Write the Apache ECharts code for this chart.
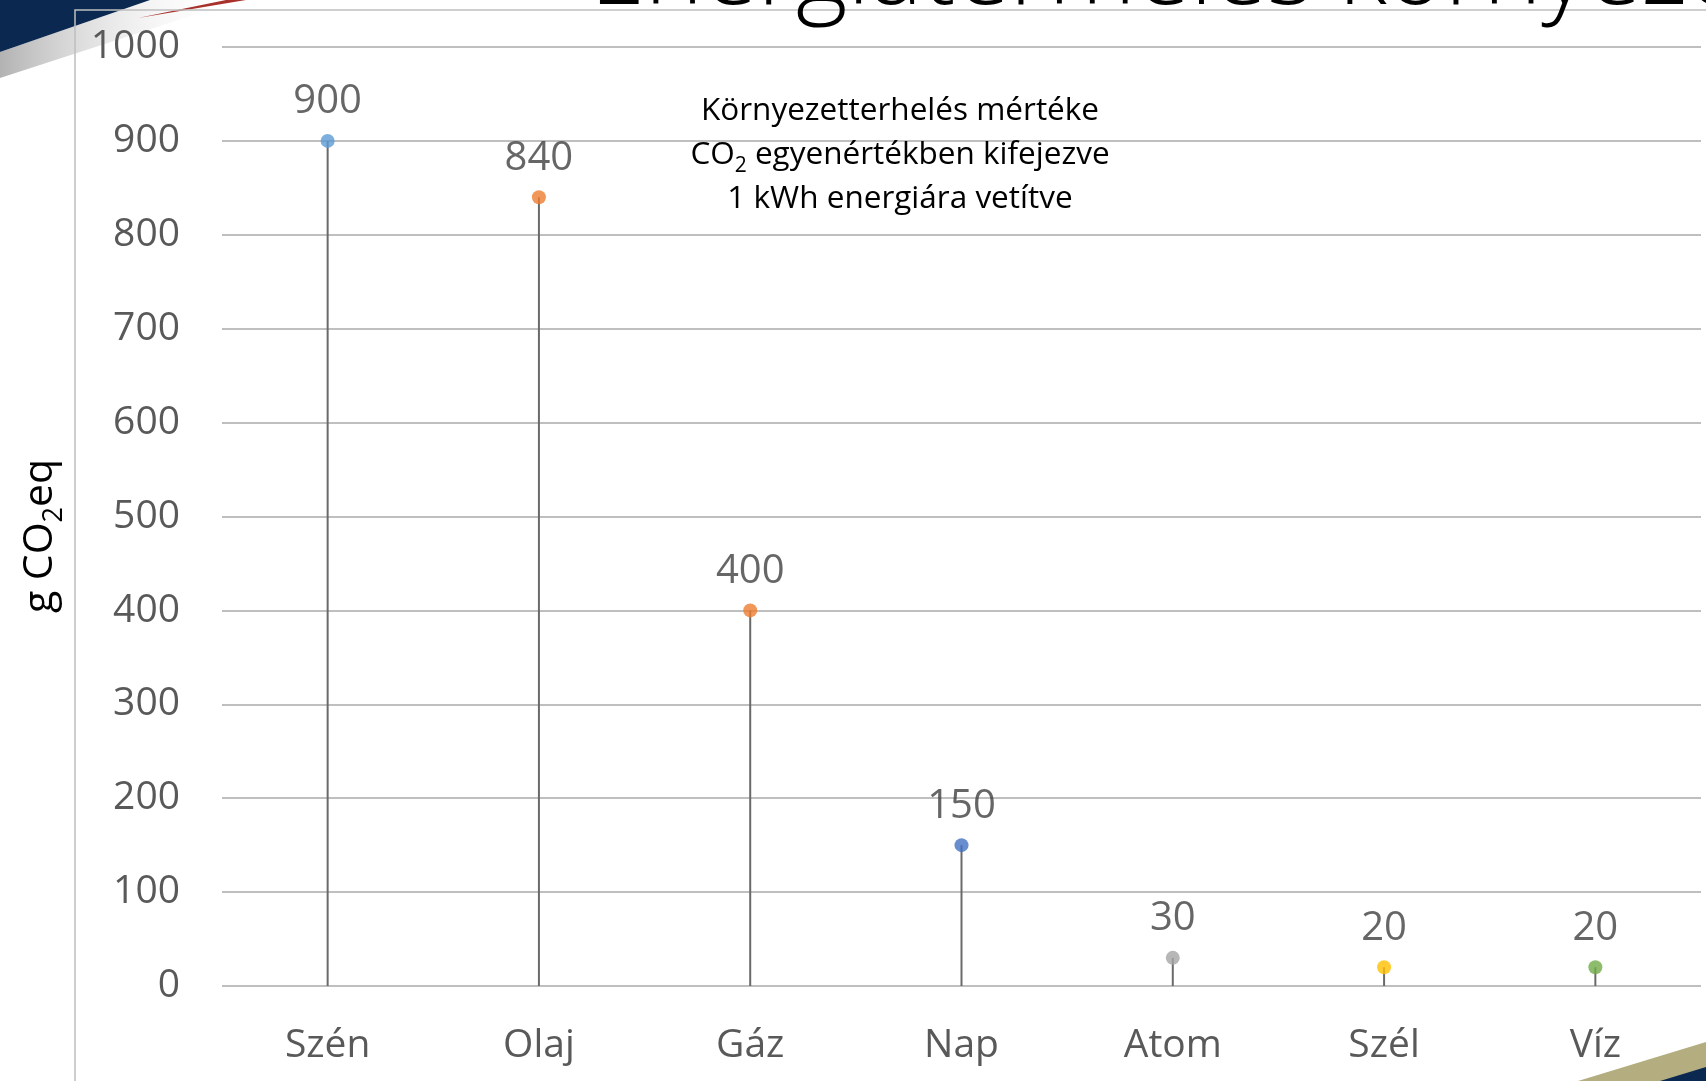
<!DOCTYPE html>
<html>
<head>
<meta charset="utf-8">
<script src="https://cdn.jsdelivr.net/npm/echarts@6/dist/echarts.min.js"></script>
<style>
html,body{margin:0;padding:0;background:#fff;}
#chart{width:1706px;height:1081px;}
</style>
</head>
<body>
<div id="chart"></div>
<script>
var categories = ['Szén', 'Olaj', 'Gáz', 'Nap', 'Atom', 'Szél', 'Víz'];
var values = [900, 840, 400, 150, 30, 20, 20];
var pointColors = ['#5B9BD5', '#ED7D31', '#ED7D31', '#4472C4', '#A5A5A5', '#FFC000', '#70AD47'];
var yTicks = [0, 100, 200, 300, 400, 500, 600, 700, 800, 900, 1000];
var titleText = 'Energiatermelés környezeti hatásai';
var noteLines = ['Környezetterhelés mértéke', 'egyenértékben kifejezve', '1 kWh energiára vetítve'];

var FONT = '"Open Sans", "Noto Sans", sans-serif';
var chart = echarts.init(document.getElementById('chart'));

var dots = values.map(function (v, i) {
  return { value: v, itemStyle: { color: pointColors[i] } };
});

chart.setOption({
  backgroundColor: '#ffffff',
  animation: false,
  grid: { left: 222, right: 5, top: 47, bottom: 95, containLabel: false },
  xAxis: {
    type: 'category',
    data: categories,
    boundaryGap: true,
    axisLine: { show: false },
    axisTick: { show: false },
    axisLabel: { margin: 40, fontSize: 39, color: '#595959', fontFamily: FONT }
  },
  yAxis: {
    type: 'value',
    min: yTicks[0],
    max: yTicks[yTicks.length - 1],
    interval: yTicks[1] - yTicks[0],
    axisLine: { show: false },
    axisTick: { show: false },
    axisLabel: { margin: 42, fontSize: 39, color: '#595959', fontFamily: FONT,
      formatter: function (v) { return String(v); } },
    splitLine: { show: true, lineStyle: { color: '#BFBFBF', width: 2 } }
  },
  series: [
    {
      type: 'bar',
      data: values,
      barWidth: 2,
      silent: true,
      itemStyle: { color: '#6a6a6a' },
      z: 2
    },
    {
      type: 'scatter',
      data: dots,
      symbol: 'circle',
      symbolSize: 14,
      silent: true,
      z: 3,
      label: {
        show: true,
        position: 'top',
        distance: 12,
        fontSize: 40,
        color: '#404040',
        fontFamily: FONT
      }
    }
  ],
  graphic: [
    { type: 'polygon', z: 0, silent: true,
      shape: { points: [[0, 52], [150, 0], [240, 0], [0, 78]] },
      style: { fill: new echarts.graphic.LinearGradient(0, 0, 1, 0, [
        { offset: 0, color: 'rgba(170,170,170,0.9)' },
        { offset: 1, color: 'rgba(255,255,255,0)' }
      ]) } },
    { type: 'polygon', z: 1, silent: true,
      shape: { points: [[0, 0], [150, 0], [0, 52]] },
      style: { fill: '#0B2850' } },
    { type: 'polygon', z: 1, silent: true,
      shape: { points: [[138, 18], [226, 0], [246, 0]] },
      style: { fill: '#A8322B' } },
    { type: 'polygon', z: 1, silent: true,
      shape: { points: [[1578, 1081], [1706, 1042], [1706, 1081]] },
      style: { fill: '#B3AD80' } },
    { type: 'polygon', z: 2, silent: true,
      shape: { points: [[1660, 1081], [1706, 1067], [1706, 1081]] },
      style: { fill: '#0B2850' } },
    { type: 'rect', z: 5, silent: true,
      shape: { x: 75, y: 10, width: 1700, height: 1100 },
      style: { fill: 'none', stroke: '#BFBFBF', lineWidth: 1.5 } },
    { type: 'text', z: 10, silent: true, x: 590, y: -24,
      style: { text: titleText, fontSize: 99, fontWeight: 300, fontFamily: FONT,
        fill: '#000', align: 'left', verticalAlign: 'middle' } },
    { type: 'text', z: 10, silent: true, x: 900, y: 155,
      style: {
        text: noteLines[0] + '\n{n|CO}{s|2}{n| ' + noteLines[1] + '}\n' + noteLines[2],
        fontSize: 31.5, lineHeight: 44, fontFamily: FONT, fill: '#000',
        align: 'center', verticalAlign: 'middle',
        rich: {
          n: { fontSize: 31.5, lineHeight: 44, fontFamily: FONT, fill: '#000' },
          s: { fontSize: 21, lineHeight: 24, verticalAlign: 'bottom', fontFamily: FONT, fill: '#000' }
        }
      } },
    { type: 'text', z: 10, silent: true, x: 40, y: 536, rotation: Math.PI / 2,
      style: {
        text: '{n|g CO}{s|2}{n|eq}',
        fontFamily: FONT, fill: '#000', align: 'center', verticalAlign: 'middle',
        rich: {
          n: { fontSize: 41, lineHeight: 56, fontFamily: FONT, fill: '#000' },
          s: { fontSize: 27, lineHeight: 31, verticalAlign: 'bottom', fontFamily: FONT, fill: '#000' }
        }
      } }
  ]
});
</script>
</body>
</html>
